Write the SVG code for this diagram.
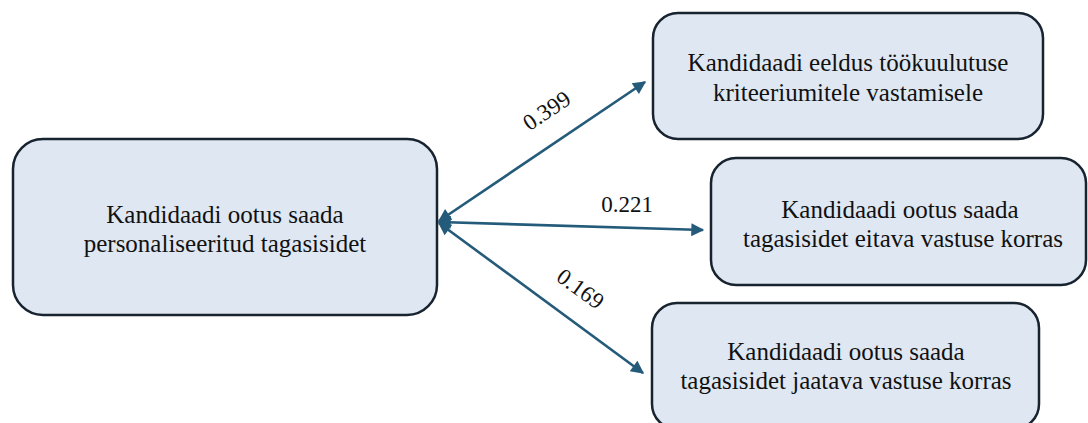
<svg xmlns="http://www.w3.org/2000/svg" width="1088" height="423" viewBox="0 0 1088 423">
<defs>
<style>
.box{fill:#dfe7f2;stroke:#17232f;stroke-width:2.5}
.t{font-family:"Liberation Serif","Times New Roman",serif;font-size:25px;fill:#111;text-anchor:middle}
.lbl{font-family:"Liberation Serif","Times New Roman",serif;font-size:23px;fill:#111;text-anchor:middle}
.conn{stroke:#245b7a;stroke-width:2.6;fill:none;marker-start:url(#ah);marker-end:url(#ah)}
</style>
<marker id="ah" viewBox="0 0 10 10" refX="9" refY="5" markerWidth="6" markerHeight="5" orient="auto-start-reverse" markerUnits="strokeWidth">
<path d="M0,0 L10,5 L0,10 z" fill="#245b7a"/>
</marker>
</defs>
<rect width="1088" height="423" fill="#ffffff"/>
<g id="connectors">
<line class="conn" x1="439" y1="221" x2="645" y2="82"/>
<line class="conn" x1="439" y1="222" x2="703" y2="230"/>
<line class="conn" x1="439" y1="223" x2="643" y2="373"/>
<text class="lbl" transform="translate(551,117) rotate(-34)">0.399</text>
<text class="lbl" x="627" y="212">0.221</text>
<text class="lbl" transform="translate(576,295) rotate(36)">0.169</text>
</g>
<g id="node-left">
<rect class="box" x="13" y="139" width="424" height="176" rx="30"/>
<text class="t" x="225" y="223">Kandidaadi ootus saada</text>
<text class="t" x="225" y="252">personaliseeritud tagasisidet</text>
</g>
<g id="node-top">
<rect class="box" x="653" y="13" width="390" height="126" rx="25"/>
<text class="t" x="848" y="71">Kandidaadi eeldus töökuulutuse</text>
<text class="t" x="848" y="101">kriteeriumitele vastamisele</text>
</g>
<g id="node-middle">
<rect class="box" x="711" y="158" width="375" height="127" rx="25"/>
<text class="t" x="900" y="218">Kandidaadi ootus saada</text>
<text class="t" x="903" y="247">tagasisidet eitava vastuse korras</text>
</g>
<g id="node-bottom">
<rect class="box" x="652" y="303" width="387" height="126" rx="25"/>
<text class="t" x="846" y="360">Kandidaadi ootus saada</text>
<text class="t" x="846" y="389">tagasisidet jaatava vastuse korras</text>
</g>
</svg>
